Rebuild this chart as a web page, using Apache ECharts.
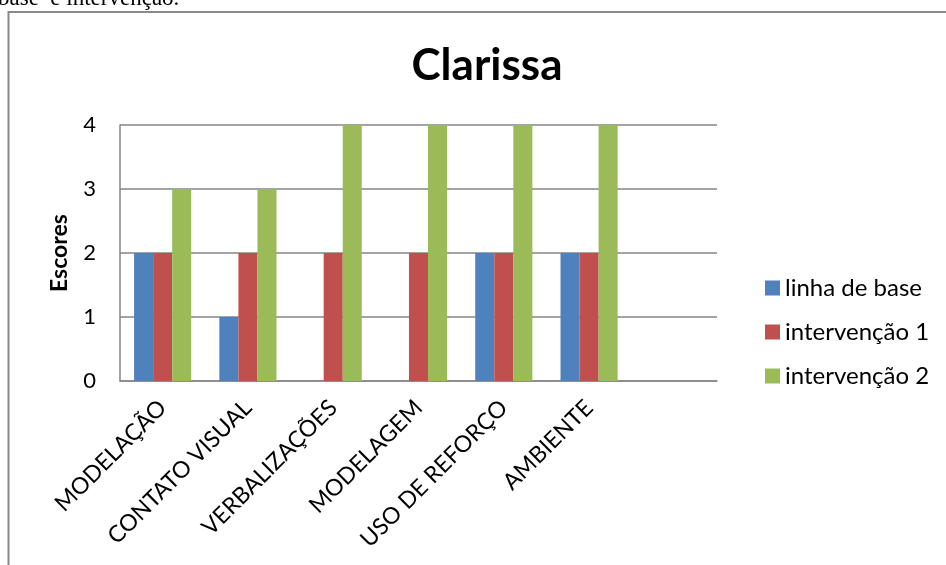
<!DOCTYPE html>
<html>
<head>
<meta charset="utf-8">
<script src="https://cdn.jsdelivr.net/npm/echarts@6/dist/echarts.min.js"></script>
<style>
  html, body { margin: 0; padding: 0; background: #fff; }
  #chart { width: 946px; height: 565px; }
</style>
</head>
<body>
<div id="chart"></div>
<script>
// Categories (the last slot is left empty, as in the original sheet)
const categories = ['MODELAÇÃO', 'CONTATO VISUAL', 'VERBALIZAÇÕES', 'MODELAGEM', 'USO DE REFORÇO', 'AMBIENTE', ''];
const seriesNames = ['linha de base', 'intervenção 1', 'intervenção 2'];
const linhaDeBase = [2, 1, 0, 0, 2, 2];
const intervencao1 = [2, 2, 2, 2, 2, 2];
const intervencao2 = [3, 3, 4, 4, 4, 4];
const yTicks = [0, 1, 2, 3, 4];

const colors = ['#4F81BD', '#C0504D', '#9BBB59'];
const font = 'Lato, "Open Sans", sans-serif';

const chart = echarts.init(document.getElementById('chart'), null, { renderer: 'canvas' });

const values = [linhaDeBase, intervencao1, intervencao2];

chart.setOption({
  animation: false,
  backgroundColor: '#fff',
  color: colors,
  title: {
    text: 'Clarissa',
    left: 482, top: 39, textAlign: 'center',
    textStyle: { fontFamily: font, fontSize: 44, fontWeight: 'bold', color: '#000' }
  },
  legend: {
    orient: 'vertical',
    left: 760, top: 271,
    itemWidth: 15, itemHeight: 15, itemGap: 20,
    icon: 'rect',
    textStyle: { fontFamily: font, fontSize: 24, color: '#000' },
    data: seriesNames
  },
  grid: { left: 120, right: 229, top: 125, bottom: 184, containLabel: false },
  xAxis: {
    type: 'category',
    data: categories,
    axisLine: { lineStyle: { color: '#868686', width: 1.5 } },
    axisTick: { show: false },
    axisLabel: {
      rotate: 45, interval: 0, margin: 23,
      fontFamily: font, fontSize: 23, color: '#000'
    }
  },
  yAxis: {
    type: 'value',
    min: yTicks[0], max: yTicks[yTicks.length - 1], interval: 1,
    name: 'Escores',
    nameLocation: 'middle', nameGap: 49, nameRotate: 90,
    nameTextStyle: { fontFamily: font, fontSize: 23, fontWeight: 'bold', color: '#000' },
    axisLine: { show: true, lineStyle: { color: '#868686', width: 1.5 } },
    axisTick: { show: false },
    axisLabel: { fontFamily: font, fontSize: 22, color: '#000', margin: 24 },
    splitLine: { lineStyle: { color: '#868686', width: 1.5 } }
  },
  series: seriesNames.map((name, i) => ({
    name, type: 'bar',
    data: values[i],
    barGap: '0%', barCategoryGap: '33%',
    itemStyle: { color: colors[i] }
  })),
  graphic: [
    {
      type: 'text', left: -2, top: -13,
      style: { text: 'base  e intervenção.', font: '23px "Liberation Serif", serif', fill: '#000' }
    },
    {
      type: 'polyline',
      shape: { points: [[8.5, 565], [8.5, 12], [946, 12]] },
      style: { stroke: '#8a8a8a', lineWidth: 2, fill: null }
    }
  ]
});
</script>
</body>
</html>
